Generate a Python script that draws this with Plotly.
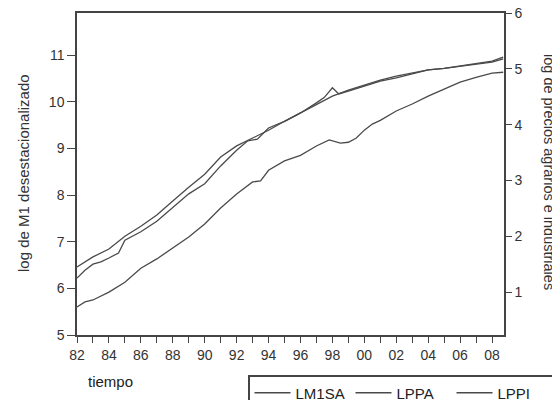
import plotly.graph_objects as go

# ---- data ----
m1_years = [1982.0, 1982.5, 1983.0, 1984.0, 1985.0, 1986.0, 1987.0, 1988.0, 1989.0, 1990.0,
            1991.0, 1992.0, 1993.0, 1993.5, 1994.0, 1995.0, 1996.0, 1997.0, 1997.8, 1998.5,
            1999.0, 1999.5, 2000.0, 2000.5, 2001.0, 2002.0, 2003.0, 2004.0, 2005.0, 2006.0,
            2007.0, 2008.0, 2008.7]
lm1sa = [5.60, 5.71, 5.75, 5.92, 6.13, 6.43, 6.63, 6.86, 7.10, 7.38,
         7.72, 8.02, 8.28, 8.30, 8.53, 8.73, 8.85, 9.05, 9.18, 9.11,
         9.13, 9.22, 9.39, 9.52, 9.60, 9.80, 9.95, 10.12, 10.27, 10.42,
         10.52, 10.61, 10.63]

ppi_years = [1982.0, 1983.0, 1984.0, 1985.0, 1986.0, 1987.0, 1988.0, 1989.0, 1990.0, 1991.0,
             1992.0, 1993.0, 1994.0, 1995.0, 1996.0, 1997.0, 1998.0, 1999.0, 2000.0, 2001.0,
             2002.0, 2003.0, 2004.0, 2005.0, 2006.0, 2007.0, 2008.0, 2008.7]
lppi = [1.45, 1.63, 1.77, 2.00, 2.18, 2.38, 2.63, 2.88, 3.11, 3.42,
        3.62, 3.76, 3.90, 4.06, 4.21, 4.37, 4.51, 4.62, 4.71, 4.80,
        4.87, 4.92, 4.98, 5.01, 5.05, 5.09, 5.12, 5.18]

ppa_years = [1982.0, 1982.5, 1983.0, 1983.5, 1984.0, 1984.6, 1985.0, 1986.0, 1987.0, 1988.0,
             1989.0, 1990.0, 1991.0, 1992.0, 1992.7, 1993.3, 1994.0, 1995.0, 1996.0, 1997.0,
             1997.5, 1998.0, 1998.4, 1999.0, 2000.0, 2001.0, 2002.0, 2003.0, 2004.0, 2005.0,
             2006.0, 2007.0, 2008.0, 2008.7]
lppa = [1.25, 1.39, 1.50, 1.54, 1.61, 1.70, 1.93, 2.08, 2.27, 2.51,
        2.76, 2.94, 3.26, 3.54, 3.71, 3.74, 3.94, 4.06, 4.21, 4.39,
        4.49, 4.66, 4.55, 4.60, 4.69, 4.78, 4.84, 4.91, 4.98, 5.01,
        5.05, 5.10, 5.14, 5.21]

x_tick_years = list(range(1982, 2009))
x_tick_text = [f"{y % 100:02d}" if (y - 1982) % 2 == 0 else "" for y in x_tick_years]
left_ticks = [5, 6, 7, 8, 9, 10, 11]
right_ticks = [1, 2, 3, 4, 5, 6]

line_col = "#4a4a4a"
axis_col = "#444444"
font_fam = "Liberation Sans, Arial, sans-serif"

# page body has an 8px default margin: figure is placed at (8, 8) in the window
PX0, PX1, PY0, PY1 = 77, 504, 13, 335   # plot area in window pixels


def px(X):
    return (X - PX0) / (PX1 - PX0)


def py(Y):
    return (PY1 - Y) / (PY1 - PY0)


fig = go.Figure()
fig.add_trace(go.Scatter(x=m1_years, y=lm1sa, name="LM1SA", mode="lines",
                         line=dict(color=line_col, width=1.3), yaxis="y"))
fig.add_trace(go.Scatter(x=ppa_years, y=lppa, name="LPPA", mode="lines",
                         line=dict(color=line_col, width=1.3), yaxis="y2"))
fig.add_trace(go.Scatter(x=ppi_years, y=lppi, name="LPPI", mode="lines",
                         line=dict(color=line_col, width=1.3), yaxis="y2"))

W, H = 552, 392
fig.update_layout(
    width=W, height=H,
    margin=dict(l=PX0 - 8, r=W - (PX1 - 8), t=PY0 - 8, b=H - (PY1 - 8), autoexpand=False),
    paper_bgcolor="white", plot_bgcolor="white",
    font=dict(family=font_fam, size=14, color="#333333"),
    xaxis=dict(range=[1982, 2008.75], tickvals=x_tick_years, ticktext=x_tick_text,
               ticks="outside", ticklen=6, tickcolor=axis_col, showline=True,
               linecolor=axis_col, linewidth=1.5, mirror=True, showgrid=False,
               zeroline=False, tickfont=dict(size=14), automargin=False),
    yaxis=dict(range=[5, 11.9], tickvals=left_ticks, ticks="outside", ticklen=8,
               tickcolor=axis_col, showline=True, linecolor=axis_col, linewidth=1.5,
               showgrid=False, zeroline=False, tickfont=dict(size=14), automargin=False),
    yaxis2=dict(range=[0.23, 6.001], tickvals=right_ticks, ticks="outside", ticklen=6,
                tickcolor=axis_col, showline=True, linecolor=axis_col, linewidth=1.5,
                overlaying="y", side="right", showgrid=False, zeroline=False,
                tickfont=dict(size=14), automargin=False, ticklabeloverflow="allow"),
    legend=dict(orientation="h", x=px(248), y=py(375),
                xanchor="left", yanchor="top", itemwidth=36, entrywidth=50,
                bordercolor="#444444", borderwidth=1.5, bgcolor="white",
                font=dict(size=15, color="#222222"), tracegroupgap=0),
    showlegend=True,
    annotations=[
        dict(text="tiempo", xref="paper", yref="paper", x=px(110), y=py(382),
             xanchor="center", yanchor="middle", showarrow=False, font=dict(size=15, color="#222222")),
        dict(text="log de M1 desestacionalizado", xref="paper", yref="paper",
             x=px(23), y=py(173), textangle=-90,
             xanchor="center", yanchor="middle", showarrow=False, font=dict(size=15, color="#333333")),
        dict(text="log de precios agrarios e industriales", xref="paper", yref="paper",
             x=px(549), y=py(172), textangle=90,
             xanchor="center", yanchor="middle", showarrow=False, font=dict(size=14.5, color="#333333")),
    ],
)

fig.write_html("out.html")
